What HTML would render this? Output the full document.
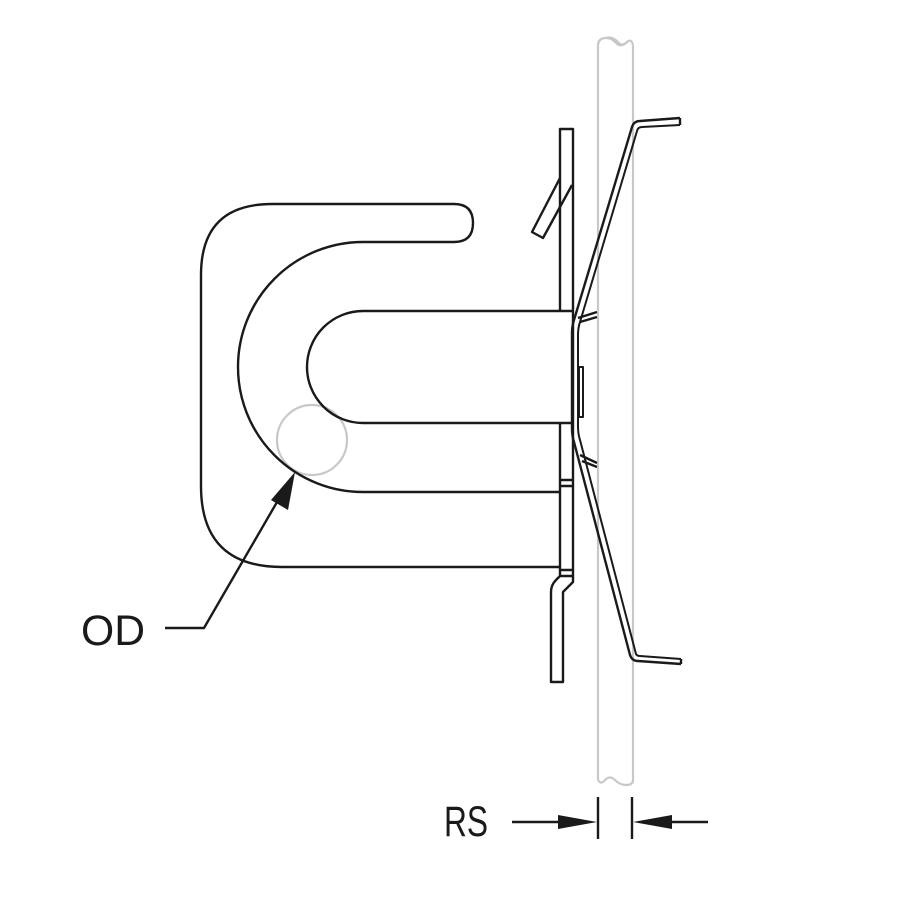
<!DOCTYPE html>
<html><head><meta charset="utf-8"><style>html,body{margin:0;padding:0;background:#fff}svg{display:block}</style></head>
<body>
<svg width="900" height="900" viewBox="0 0 900 900" xmlns="http://www.w3.org/2000/svg">
<!-- pole -->
<g fill="none" stroke="#c8c8c8" stroke-width="2.2">
<path d="M598,780 L598,46 Q598,38 606,38 Q612,38 616,43 Q621,48 627,42 Q632,38 633,46 L633,780 Q633,785 626,785 Q620,785 615,780 Q610,775 605,780 Q601,785 598,780"/>
<path d="M606,38 Q612,36 618,42 Q622,47 627,42"/>
<circle cx="312" cy="440" r="35"/>
</g>
<g fill="none" stroke="#1a1a1a" stroke-width="2.4" stroke-linejoin="round">
<!-- outer J shape -->
<path d="M560,567 L282,567 Q201,567 201,486 L201,275 Q201,204 272,204 L454,204 Q473,204 473,223 Q473,242 454,242 L363,242 A125,125 0 0 0 363,492 L560,492"/>
<!-- inner slot -->
<path d="M573,311 L363,311 A56,56 0 0 0 363,423 L573,423"/>
<!-- plate -->
<path d="M560,311 L560,129 L573,129 L573,582 L563,592 L563,682 L551,682 L551,592 Q551,585 556,580 L560,576 L560,492"/>
<path d="M560,423 L560,492"/>
<path d="M560,480 L573,480 M560,486 L573,486 M560,570 L573,570 M560,576 L573,576"/>
<!-- angled tab -->
<path d="M560,178 L532,232 L543,238 L572,185"/>
<!-- spring clip -->
<path d="M680,118 L640,121 Q634,121 632,127 L574,320 Q572,326 572,333 L572,428 Q572,436 574,442 L630,655 Q632,661 638,661 L681,664"/>
<path d="M680,125 L642,127 Q638,127 637,131 L580,322 Q578,328 578,335 L578,426 Q578,434 580,440 L636,654 Q637,656 640,656 L681,659" stroke-width="2"/>
<path d="M680,118 L680,125 M681,659 L681,664"/>
<path d="M578,318 L597,312 M580,322 L597,317"/>
<path d="M580,455 L597,463 M582,461 L597,467"/>
<rect x="579" y="367" width="4" height="50" stroke-width="2"/>
<!-- OD leader -->
<path d="M165,628 L204,628 L284,490"/>
<!-- RS dims -->
<path d="M512,822 L580,822 M598,797 L598,839 M632,797 L632,839 M650,822 L708,822"/>
</g>
<g fill="#1a1a1a">
<polygon points="295,472 271,500 288,510"/>
<polygon points="597,822 558,815 558,829"/>
<polygon points="633,822 672,815 672,829"/>
</g>
<g font-family="'Liberation Sans', sans-serif" fill="#1a1a1a" font-size="43">
<text x="81" y="645" textLength="64" lengthAdjust="spacingAndGlyphs">OD</text>
<text x="444" y="836" textLength="44" lengthAdjust="spacingAndGlyphs">RS</text>
</g>
</svg>
</body></html>
